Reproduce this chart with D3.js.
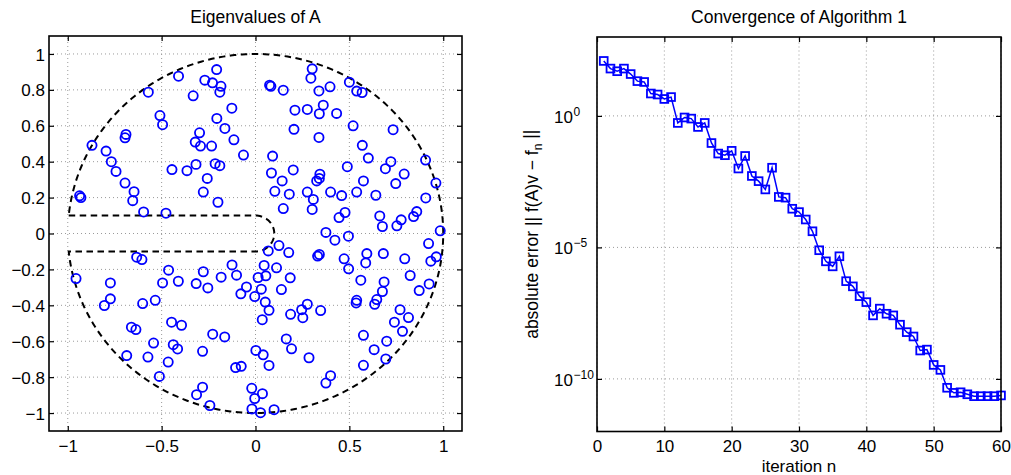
<!DOCTYPE html>
<html>
<head>
<meta charset="utf-8">
<script src="https://cdn.jsdelivr.net/npm/d3@7"></script>
<style>
body { margin: 0; background: #fff; }
text { font-family: "Liberation Sans", Arial, sans-serif; fill: #000; }
</style>
</head>
<body>
<div id="main-vis"></div>
<script>
var eigRe = [
 -0.937,-0.930,-0.871,-0.796,-0.768,-0.743,-0.695,-0.647,-0.654,-0.690,-0.695,-0.596,-0.477,-0.571,-0.509,-0.495,-0.410,-0.445,-0.365,-0.317,
 -0.332,-0.270,-0.229,-0.207,-0.184,-0.190,-0.126,-0.206,-0.163,-0.298,-0.321,-0.293,-0.234,-0.115,-0.064,-0.215,-0.190,-0.257,-0.278,-0.200,
 0.075,0.082,0.148,0.302,0.295,0.338,0.397,0.500,0.539,0.568,0.210,0.276,0.361,0.340,0.432,0.205,0.338,0.520,0.733,0.569,
 0.601,0.091,0.085,0.142,0.201,0.103,0.180,0.343,0.340,0.326,0.276,0.308,0.302,0.400,0.459,0.489,0.539,0.575,0.641,0.692,
 0.721,0.747,0.792,0.906,0.961,0.907,0.445,0.477,0.148,0.662,0.676,0.753,0.776,0.842,0.859,0.984,0.375,
 -0.956,-0.633,-0.605,-0.773,-0.773,-0.805,-0.601,-0.661,-0.637,-0.534,-0.495,-0.463,-0.411,-0.447,-0.394,-0.543,-0.438,-0.415,-0.686,-0.573,
 -0.465,-0.512,-0.282,-0.316,-0.278,-0.254,-0.183,-0.125,-0.101,-0.048,-0.078,-0.106,-0.076,-0.228,-0.164,-0.282,-0.314,-0.243,
 0.423,0.495,0.922,0.934,0.963,0.925,0.872,0.824,0.795,0.681,0.593,0.587,0.472,0.496,0.561,0.685,0.676,0.646,0.635,0.539,
 0.536,0.770,0.815,0.740,0.783,0.575,0.699,0.632,0.694,0.575,0.400,0.375,0.285,0.164,0.192,0.187,0.252,0.246,0.276,0.347,
 0.340,0.331,0.185,0.138,0.112,0.125,0.177,0.068,0.046,0.055,0.014,0.031,-0.004,0.052,0.072,0.036,0.002,0.041,0.072,-0.020,
 0.037,-0.004,-0.019,0.027,0.099
];
var eigIm = [
 0.210,0.200,0.491,0.459,0.400,0.346,0.281,0.233,0.183,0.552,0.533,0.120,0.113,0.787,0.657,0.606,0.876,0.356,0.350,0.385,
 0.767,0.854,0.839,0.913,0.820,0.787,0.698,0.641,0.585,0.561,0.509,0.487,0.487,0.522,0.437,0.389,0.378,0.307,0.231,0.174,
 0.826,0.820,0.798,0.917,0.865,0.794,0.817,0.843,0.793,0.785,0.687,0.691,0.715,0.667,0.669,0.580,0.535,0.600,0.578,0.491,
 0.420,0.431,0.337,0.293,0.354,0.235,0.219,0.330,0.307,0.293,0.231,0.190,0.134,0.231,0.211,0.372,0.231,0.293,0.213,0.361,
 0.400,0.278,0.331,0.409,0.281,0.198,0.089,0.117,0.139,0.098,0.039,0.043,0.076,0.094,0.122,0.015,0.006,
 -0.251,-0.132,-0.145,-0.275,-0.364,-0.401,-0.390,-0.522,-0.535,-0.372,-0.275,-0.204,-0.266,-0.494,-0.511,-0.610,-0.619,-0.643,-0.680,-0.688,
 -0.716,-0.796,-0.656,-0.279,-0.213,-0.303,-0.243,-0.175,-0.232,-0.298,-0.336,-0.747,-0.740,-0.561,-0.576,-0.856,-0.898,-0.958,
 -0.037,-0.015,-0.056,-0.154,-0.130,-0.281,-0.318,-0.234,-0.141,-0.112,-0.112,-0.164,-0.141,-0.197,-0.260,-0.270,-0.323,-0.368,-0.394,-0.372,
 -0.387,-0.424,-0.468,-0.494,-0.545,-0.567,-0.600,-0.647,-0.699,-0.734,-0.792,-0.833,-0.692,-0.587,-0.642,-0.450,-0.469,-0.424,-0.394,-0.429,
 -0.117,-0.126,-0.247,-0.312,-0.191,-0.067,-0.106,-0.097,-0.178,-0.236,-0.245,-0.310,-0.351,-0.382,-0.428,-0.480,-0.651,-0.676,-0.735,-0.862,
 -0.892,-0.919,-0.977,-0.998,-0.981
];

// convergence of Algorithm 1
var iterations = [1,2,3,4,5,6,7,8,9,10,11,12,13,14,15,16,17,18,19,20,21,22,23,24,25,26,27,28,29,30,
                  31,32,33,34,35,36,37,38,39,40,41,42,43,44,45,46,47,48,49,50,51,52,53,54,55,56,57,58,59,60];
var absError = [
 1.23e2,6.3e1,5.0e1,6.3e1,3.9e1,2.1e1,1.95e1,7.1,6.5,4.4,
 5.2,0.54,0.87,0.79,0.38,0.54,0.093,0.037,0.032,0.047,
 0.010,0.030,5.2e-3,3.3e-3,1.6e-3,1.07e-2,8.3e-4,7.8e-4,2.95e-4,2.2e-4,
 1.15e-4,4.1e-5,7.8e-6,2.95e-6,1.9e-6,4.6e-6,5.2e-7,3.3e-7,1.4e-7,8.3e-8,
 2.6e-8,4.7e-8,3.0e-8,2.6e-8,1.15e-8,6.0e-9,4.1e-9,1.2e-9,1.3e-9,3.4e-10,
 2.2e-10,4.6e-11,2.95e-11,3.1e-11,2.6e-11,2.2e-11,2.2e-11,2.2e-11,2.2e-11,2.35e-11
];

var xTicksLeft = [-1,-0.5,0,0.5,1];
var yTicksLeft = [-1,-0.8,-0.6,-0.4,-0.2,0,0.2,0.4,0.6,0.8,1];
var xTicksRight = [0,10,20,30,40,50,60];
var yTicksRight = [1e-10,1e-5,1e0];
var yTickExp = ["\u221210","\u22125","0"];

var blue = "#0000ff";
var gridColor = "#9a9a9a";
var tickFont = "17px";
var labelFont = "17.5px";

var svg = d3.select("#main-vis").append("svg")
     .attr("width", 1011)
     .attr("height", 475);

svg.append("rect").attr("width", 1011).attr("height", 475).attr("fill", "#fff");

function drawGrid(g, x, y, xt, yt) {
     var x0 = x.range()[0], x1 = x.range()[1];
     var y0 = y.range()[0], y1 = y.range()[1];
     g.append("g").selectAll("line").data(xt).enter().append("line")
          .attr("x1", function (d) { return x(d); }).attr("x2", function (d) { return x(d); })
          .attr("y1", y0).attr("y2", y1)
          .attr("stroke", gridColor).attr("stroke-width", 1).attr("stroke-dasharray", "1,3");
     g.append("g").selectAll("line").data(yt).enter().append("line")
          .attr("y1", function (d) { return y(d); }).attr("y2", function (d) { return y(d); })
          .attr("x1", x0).attr("x2", x1)
          .attr("stroke", gridColor).attr("stroke-width", 1).attr("stroke-dasharray", "1,3");
}

function drawAxes(g, x, y, xt, yt, xFmt) {
     var x0 = x.range()[0], x1 = x.range()[1];
     var y0 = y.range()[0], y1 = y.range()[1];
     var ax = [
          g.append("g").attr("transform", "translate(0," + y0 + ")")
               .call(d3.axisBottom(x).tickValues(xt).tickSizeInner(-5).tickSizeOuter(0).tickPadding(8.5).tickFormat(xFmt)),
          g.append("g").attr("transform", "translate(0," + y1 + ")")
               .call(d3.axisTop(x).tickValues(xt).tickSizeInner(-5).tickSizeOuter(0).tickFormat("")),
          g.append("g").attr("transform", "translate(" + x1 + ",0)")
               .call(d3.axisRight(y).tickValues(yt).tickSizeInner(-5).tickSizeOuter(0).tickFormat(""))
     ];
     var left = g.append("g").attr("transform", "translate(" + x0 + ",0)")
          .call(d3.axisLeft(y).tickValues(yt).tickSizeInner(-5).tickSizeOuter(0).tickFormat(""));
     ax.push(left);
     ax.forEach(function (a) {
          a.select(".domain").remove();
          a.selectAll(".tick line").attr("stroke", "#000").attr("stroke-width", 1.2);
          a.selectAll("text").style("font-family", "Liberation Sans, Arial, sans-serif").style("font-size", tickFont).attr("fill", "#000");
     });
     g.append("rect")
          .attr("x", x0).attr("y", y1)
          .attr("width", x1 - x0).attr("height", y0 - y1)
          .attr("fill", "none").attr("stroke", "#000").attr("stroke-width", 1.6);
     return left;
}

// ---------- left panel ----------
var xL = d3.scaleLinear().domain([-1.1, 1.1]).range([49, 462]);
var yL = d3.scaleLinear().domain([-1.1, 1.1]).range([431, 36]);

var gL = svg.append("g");
drawGrid(gL, xL, yL, xTicksLeft, yTicksLeft);

// keyhole contour: unit circle with a slit of half width 0.1 along the negative real axis
var slit = 0.1;
var a0 = Math.asin(slit);
var contour = [[-Math.cos(a0), slit], [0, slit]];
d3.range(0, 41).forEach(function (i) {
     var t = Math.PI / 2 - Math.PI * i / 40;
     contour.push([slit * Math.cos(t), slit * Math.sin(t)]);
});
contour.push([-Math.cos(a0), -slit]);
d3.range(0, 301).forEach(function (i) {
     var t = -(Math.PI - a0) + 2 * (Math.PI - a0) * i / 300;
     contour.push([Math.cos(t), Math.sin(t)]);
});
var contourLine = d3.line()
     .x(function (d) { return xL(d[0]); })
     .y(function (d) { return yL(d[1]); });
gL.append("path")
     .attr("d", contourLine(contour))
     .attr("fill", "none").attr("stroke", "#000")
     .attr("stroke-width", 2).attr("stroke-dasharray", "6.5,4.5");

gL.selectAll("circle.eig")
     .data(eigRe)
     .enter().append("circle")
     .attr("class", "eig")
     .attr("r", 4.6)
     .attr("cx", function (d) { return xL(d); })
     .attr("cy", function (d, i) { return yL(eigIm[i]); })
     .attr("fill", "none").attr("stroke", blue).attr("stroke-width", 1.8);

var fmtL = d3.format("~g");
var leftAxisL = drawAxes(gL, xL, yL, xTicksLeft, yTicksLeft, fmtL);
leftAxisL.selectAll(".tick").append("text")
     .attr("x", -4).attr("dy", "0.36em")
     .attr("text-anchor", "end")
     .style("font-size", tickFont)
     .text(function (d) { return fmtL(d); });

svg.append("text")
     .attr("x", (xL.range()[0] + xL.range()[1]) / 2).attr("y", 23)
     .attr("text-anchor", "middle").style("font-size", labelFont)
     .text("Eigenvalues of A");

// ---------- right panel ----------
var xR = d3.scaleLinear().domain([0, 60]).range([597, 1001]);
var yR = d3.scaleLog().domain([1e-12, 1e3]).range([431.5, 37]);

var gR = svg.append("g");
drawGrid(gR, xR, yR, xTicksRight, yTicksRight);

var errLine = d3.line()
     .x(function (d, i) { return xR(iterations[i]); })
     .y(function (d) { return yR(d); });
gR.append("path")
     .attr("d", errLine(absError))
     .attr("fill", "none").attr("stroke", blue).attr("stroke-width", 1.5);

var sq = 7.8;
gR.selectAll("rect.it")
     .data(absError)
     .enter().append("rect")
     .attr("class", "it")
     .attr("x", function (d, i) { return xR(iterations[i]) - sq / 2; })
     .attr("y", function (d) { return yR(d) - sq / 2; })
     .attr("width", sq).attr("height", sq)
     .attr("fill", "none").attr("stroke", blue).attr("stroke-width", 1.8);

var leftAxisR = drawAxes(gR, xR, yR, xTicksRight, yTicksRight, d3.format("d"));
leftAxisR.selectAll(".tick").each(function (d, i) {
     var t = d3.select(this);
     t.append("text").attr("x", -24).attr("dy", "0.36em")
          .attr("text-anchor", "end").style("font-size", tickFont).text("10");
     t.append("text").attr("x", -23.5).attr("dy", "-0.05em")
          .attr("text-anchor", "start").style("font-size", "12px").text(yTickExp[i]);
});

svg.append("text")
     .attr("x", (xR.range()[0] + xR.range()[1]) / 2).attr("y", 23)
     .attr("text-anchor", "middle").style("font-size", labelFont)
     .text("Convergence of Algorithm 1");

svg.append("text")
     .attr("x", (xR.range()[0] + xR.range()[1]) / 2).attr("y", 471.5)
     .attr("text-anchor", "middle").style("font-size", "17px")
     .text("iteration n");

var ylab = svg.append("text")
     .attr("transform", "translate(538," + (yR.range()[0] + yR.range()[1]) / 2 + ") rotate(-90)")
     .attr("text-anchor", "middle").style("font-size", labelFont);
ylab.append("tspan").text("absolute error || f(A)v \u2212 f");
ylab.append("tspan").attr("dy", "0.3em").style("font-size", "12px").text("n");
ylab.append("tspan").attr("dy", "-0.3em").text(" ||");
</script>
</body>
</html>
